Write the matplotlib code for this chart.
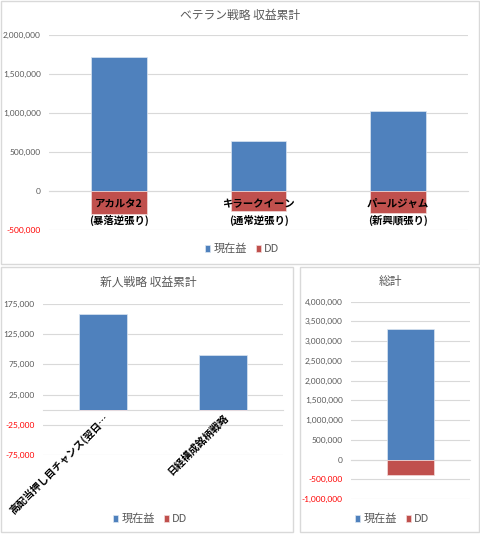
import numpy as np
import matplotlib
matplotlib.use('Agg')
from matplotlib import pyplot as plt
from matplotlib.patches import Rectangle
from matplotlib.ticker import FuncFormatter

plt.rcParams['font.family'] = ['Noto Sans CJK JP', 'DejaVu Sans']

## chart data
vet_labels = ['アカルタ2\n(暴落逆張り)', 'キラークイーン\n(通常逆張り)', 'パールジャム\n(新興順張り)']
vet_profit = [1720000, 645000, 1025000]
vet_dd = [-295000, -252000, -282000]
vet_ticks = [-500000, 0, 500000, 1000000, 1500000, 2000000]

new_labels = ['高配当押し目チャンス(翌日…', '日経構成銘柄戦略']
new_profit = [158000, 91000]
new_dd = [0, 0]
new_ticks = [-75000, -25000, 25000, 75000, 125000, 175000]

tot_labels = ['']
tot_profit = [3310000]
tot_dd = [-396000]
tot_ticks = list(range(-1000000, 4000001, 500000))

series_names = ['現在益', 'DD']
BLUE = '#4F81BD'
RED = '#C0504D'
GRID = '#D9D9D9'
TXT = '#595959'

W, H = 480, 534
fig = plt.figure(figsize=(W/100., H/100.), dpi=100)

def px_axes(x0, y0, x1, y1):
    ## pixel box (top-left origin) -> axes
    return fig.add_axes([x0/W, 1-y1/H, (x1-x0)/W, (y1-y0)/H])

def panel(x0, y0, x1, y1):
    fig.add_artist(Rectangle((x0/W, 1-y1/H), (x1-x0)/W, (y1-y0)/H,
                             transform=fig.transFigure, fill=False,
                             edgecolor=GRID, linewidth=1))

def bar_chart(ax, labels, profit, dd, ticks, title, title_xy, legend_xy, rot=0):
    x = np.arange(len(labels))
    ax.bar(x, profit, 0.4, color=BLUE, edgecolor='#DCE6F2', linewidth=0.5, label=series_names[0], zorder=3)
    ax.bar(x, dd, 0.4, color=RED, edgecolor='#F2DCDB', linewidth=0.5, label=series_names[1], zorder=3)
    ax.set_xlim(-0.5, len(labels)-0.5)
    ax.set_ylim(ticks[0], ticks[-1])
    ax.set_yticks(ticks)
    ax.yaxis.set_major_formatter(FuncFormatter(lambda v, p: '{:,.0f}'.format(v)))
    ax.grid(axis='y', color=GRID, linewidth=0.8)
    ax.yaxis.set_zorder(0.5)
    ax.xaxis.set_zorder(4)   ## category labels sit on top of the DD bars
    for s in ['left', 'right', 'top']:
        ax.spines[s].set_visible(False)
    ax.spines['bottom'].set_position(('data', 0))
    ax.spines['bottom'].set_color(GRID)
    ax.spines['bottom'].set_zorder(1)
    ax.tick_params(axis='y', length=0, pad=6, labelsize=6, labelcolor=TXT)
    ax.tick_params(axis='x', length=0)
    for lab, t in zip(ax.get_yticklabels(), ticks):
        lab.set_fontfamily('Lato')
        if t < 0:
            lab.set_color('#FF0000')
    ax.set_xticks(x)
    if rot:
        ax.set_xticklabels(labels, rotation=rot, ha='right', va='top',
                           rotation_mode='anchor', fontsize=7.3, fontweight='bold')
        ax.tick_params(axis='x', pad=2)
    else:
        ax.set_xticklabels(labels, fontsize=7.5, fontweight='bold', linespacing=1.6)
        ax.tick_params(axis='x', pad=6)
    ax.set_facecolor('none')
    fig.text(title_xy[0]/W, 1-title_xy[1]/H, title, ha='center', va='center',
             fontsize=8.5, color=TXT)
    ax.legend(loc='center', bbox_to_anchor=(legend_xy[0]/W, 1-legend_xy[1]/H),
              bbox_transform=fig.transFigure, ncol=2, frameon=False,
              fontsize=8, handlelength=0.5, handleheight=0.5,
              handletextpad=0.25, columnspacing=0.8, labelcolor=TXT)

panel(0.5, 0.5, 479, 264)
panel(1, 267, 293, 532)
panel(300, 267, 479, 532)

ax1 = px_axes(49, 35, 468, 230)
bar_chart(ax1, vet_labels, vet_profit, vet_dd, vet_ticks,
          'ベテラン戦略 収益累計', (240, 15), (242, 249))

ax2 = px_axes(43, 304, 283, 455)
bar_chart(ax2, new_labels, new_profit, new_dd, new_ticks,
          '新人戦略 収益累計', (148, 282), (150, 519), rot=45)

ax3 = px_axes(351, 301.7, 470, 499)
bar_chart(ax3, tot_labels, tot_profit, tot_dd, tot_ticks,
          '総計', (390, 282), (392, 519))

fig.savefig('out.png', dpi=100, facecolor='white')
